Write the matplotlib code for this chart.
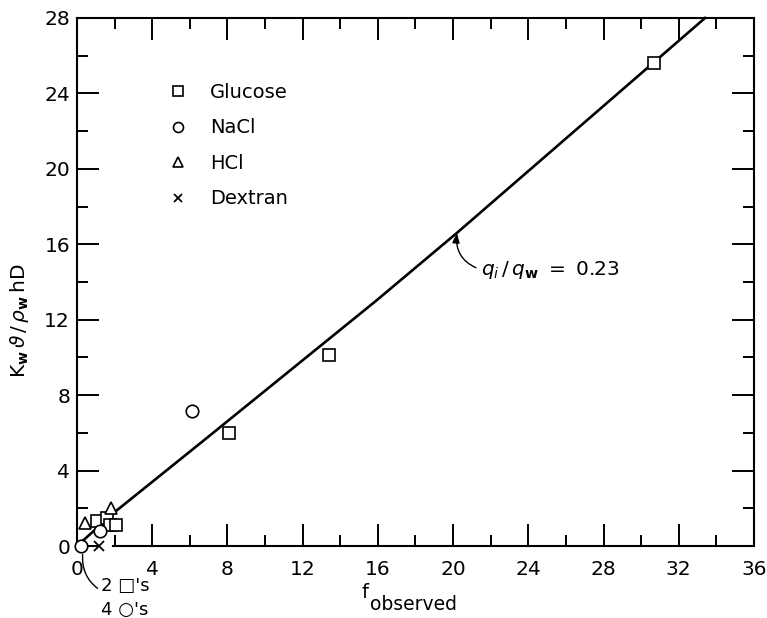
import matplotlib
matplotlib.use('Agg')
import matplotlib.pyplot as plt
from matplotlib.ticker import MultipleLocator

# ---- data ----
glucose_x = [1.08, 1.6, 1.77, 2.1, 8.06, 13.4, 30.7]
glucose_y = [1.3, 1.5, 1.1, 1.1, 6.0, 10.15, 25.6]
nacl_x = [0.2, 1.2, 6.13]
nacl_y = [0.0, 0.8, 7.18]
hcl_x = [0.45, 1.82]
hcl_y = [1.2, 1.99]
dextran_x = [1.15]
dextran_y = [0.0]
curve_x = [0.0, 1.98, 6.68, 15.9, 20.2, 33.4]
curve_y = [0.0, 1.78, 5.55, 13.0, 16.6, 28.0]
x_ticks = [0, 4, 8, 12, 16, 20, 24, 28, 32, 36]
y_ticks = [0, 4, 8, 12, 16, 20, 24, 28]

plt.rcParams['font.family'] = ['DejaVu Sans']
plt.rcParams['mathtext.fontset'] = 'dejavusans'

fig = plt.figure(figsize=(7.67, 6.18), dpi=100)
ax = fig.add_axes([0.1004, 0.1165, 0.8826, 0.8544])

ax.plot(curve_x, curve_y, color='black', lw=1.9, zorder=2, clip_on=False)

mk = dict(linestyle='none', color='black', markerfacecolor='white',
          markeredgewidth=1.2, zorder=3, clip_on=False)
ax.plot(glucose_x, glucose_y, marker='s', markersize=8.5, label='Glucose', **mk)
ax.plot(nacl_x, nacl_y, marker='o', markersize=9, label='NaCl', **mk)
ax.plot(hcl_x, hcl_y, marker='^', markersize=9, label='HCl', **mk)
ax.plot(dextran_x, dextran_y, marker='x', markersize=7, label='Dextran',
        linestyle='none', color='black', markeredgewidth=1.3, zorder=3, clip_on=False)
# small dash left of the dextran mark
ax.plot([0.62, 0.92], [0, 0], color='black', lw=1.3, clip_on=False)

ax.set_xlim(0, 36)
ax.set_ylim(0, 28)
ax.set_xticks(x_ticks)
ax.set_yticks(y_ticks)
ax.xaxis.set_minor_locator(MultipleLocator(2))
ax.yaxis.set_minor_locator(MultipleLocator(2))
ax.tick_params(which='both', direction='in', top=True, right=True, width=1.4,
               colors='black', labelsize=14.5)
ax.tick_params(which='major', length=16)
ax.tick_params(which='minor', length=8)
ax.tick_params(axis='x', pad=10)
ax.tick_params(axis='y', pad=5)
for s in ax.spines.values():
    s.set_linewidth(1.5)
ax.spines['bottom'].set_bounds(1.9, 36)

leg = ax.legend(loc='upper left', bbox_to_anchor=(0.2190, 0.866),
                bbox_transform=fig.transFigure, frameon=False, fontsize=14,
                markerscale=0.8, handlelength=1.0, handletextpad=1.15,
                labelspacing=0.85, borderpad=0, borderaxespad=0)

ax.annotate(r'$q_i\,/\,q_{\mathbf{w}}\ =\ 0.23$', xy=(20.2, 16.6), xytext=(21.5, 14.65),
            ha='left', va='center', fontsize=14.5,
            arrowprops=dict(arrowstyle='-|>,head_length=0.4,head_width=0.15',
                            connectionstyle='arc3,rad=-0.4', lw=1.0, color='black',
                            relpos=(0, 0.5), shrinkA=2, shrinkB=0))

ax.annotate("2 \u25a1's", xy=(0.3, -0.45), xytext=(1.3, -2.1), ha='left', va='center',
            fontsize=13, annotation_clip=False,
            arrowprops=dict(arrowstyle='-', connectionstyle='arc3,rad=-0.3', lw=1.0,
                            color='black', relpos=(0, 0.2), shrinkA=1, shrinkB=0))
ax.text(1.3, -3.38, "4 \u25cb's", ha='left', va='center', fontsize=13, clip_on=False)

ax.set_ylabel(r'$\mathrm{K}_{\mathbf{w}}\,\vartheta\,/\,\rho_{\mathbf{w}}\,\mathrm{hD}$', fontsize=14.5)
ax.yaxis.set_label_coords(-0.068, 0.426)

fig.text(362 / 767, 1 - 593 / 618, 'f', fontsize=14, ha='left', va='center')
fig.text(370 / 767, 1 - 605 / 618, 'observed', fontsize=13.5, ha='left', va='center')

fig.savefig('out.png', dpi=100)
